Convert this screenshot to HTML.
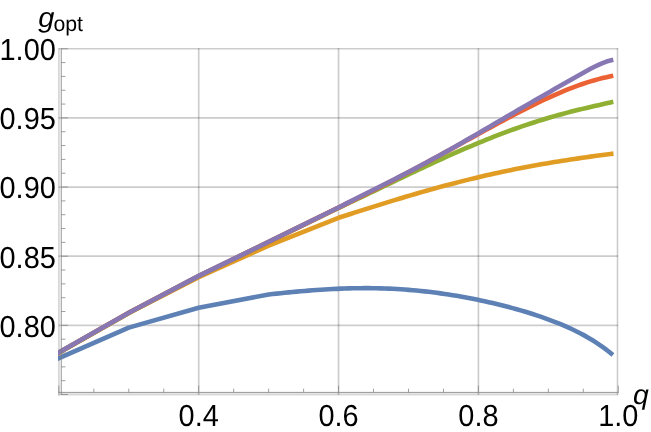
<!DOCTYPE html>
<html><head><meta charset="utf-8"><style>
html,body{margin:0;padding:0;background:#fff;}
svg{display:block;filter:blur(0.3px);font-family:"Liberation Sans",sans-serif;fill:#000;}
</style></head><body>
<svg width="651" height="432" viewBox="0 0 651 432">
<rect width="651" height="432" fill="#fff"/>
<g><line x1="198.70" y1="48.2" x2="198.70" y2="395" stroke="#000" stroke-opacity="0.2" stroke-width="1.7"/>
<line x1="338.56" y1="48.2" x2="338.56" y2="395" stroke="#000" stroke-opacity="0.2" stroke-width="1.7"/>
<line x1="478.42" y1="48.2" x2="478.42" y2="395" stroke="#000" stroke-opacity="0.2" stroke-width="1.7"/>
<line x1="617.5" y1="48.2" x2="617.5" y2="395" stroke="#000" stroke-opacity="0.2" stroke-width="1.6"/>
<line x1="58.5" y1="48.75" x2="618.1" y2="48.75" stroke="#000" stroke-opacity="0.2" stroke-width="1.7"/>
<line x1="58.5" y1="117.90" x2="618.1" y2="117.90" stroke="#000" stroke-opacity="0.2" stroke-width="1.7"/>
<line x1="58.5" y1="187.05" x2="618.1" y2="187.05" stroke="#000" stroke-opacity="0.2" stroke-width="1.7"/>
<line x1="58.5" y1="256.20" x2="618.1" y2="256.20" stroke="#000" stroke-opacity="0.2" stroke-width="1.7"/>
<line x1="58.5" y1="325.35" x2="618.1" y2="325.35" stroke="#000" stroke-opacity="0.2" stroke-width="1.7"/>
<line x1="58.9" y1="48.2" x2="58.9" y2="395.4" stroke="#000" stroke-opacity="0.15" stroke-width="1.9"/>
<line x1="58" y1="394.3" x2="618.1" y2="394.3" stroke="#000" stroke-opacity="0.15" stroke-width="2.2"/>
</g>
<g><clipPath id="cp"><rect x="57.9" y="40" width="580" height="360"/></clipPath>
<g clip-path="url(#cp)">
<path d="M50.00 362.05 L57.90 358.60 L128.77 327.65 L198.70 307.70 L268.63 294.50 L272.63 294.07 L276.63 293.64 L280.63 293.22 L284.63 292.81 L288.63 292.41 L292.63 292.03 L296.63 291.65 L300.63 291.29 L304.63 290.95 L308.63 290.62 L312.63 290.30 L316.63 290.01 L320.63 289.73 L324.63 289.47 L328.63 289.24 L332.63 289.02 L336.63 288.83 L340.63 288.66 L344.63 288.51 L348.63 288.39 L352.63 288.30 L356.63 288.22 L360.63 288.18 L364.63 288.16 L368.63 288.17 L372.63 288.21 L376.63 288.27 L380.63 288.36 L384.63 288.49 L388.63 288.64 L392.63 288.82 L396.63 289.03 L400.63 289.27 L404.63 289.54 L408.63 289.84 L412.63 290.17 L416.63 290.54 L420.63 290.93 L424.63 291.35 L428.63 291.80 L432.63 292.29 L436.63 292.80 L440.63 293.35 L444.63 293.92 L448.63 294.53 L452.63 295.16 L456.63 295.82 L460.63 296.52 L464.63 297.24 L468.63 297.99 L472.63 298.77 L476.63 299.57 L480.63 300.40 L484.63 301.27 L488.63 302.15 L492.63 303.07 L496.63 304.02 L500.63 305.00 L504.63 306.01 L508.63 307.05 L512.63 308.12 L516.63 309.23 L520.63 310.37 L524.63 311.55 L528.63 312.77 L532.63 314.04 L536.63 315.34 L540.63 316.69 L544.63 318.09 L548.63 319.54 L552.63 321.04 L556.63 322.60 L560.63 324.23 L564.63 325.92 L568.63 327.68 L572.63 329.53 L576.63 331.47 L580.63 333.50 L584.63 335.65 L588.63 337.91 L592.63 340.31 L596.63 342.85 L600.63 345.55 L604.63 348.41 L608.63 351.47 L612.63 354.73 L612.90 354.95" fill="none" stroke="#5E81B5" stroke-width="4.6" stroke-linejoin="round"/>
<path d="M50.00 357.79 L57.90 353.30 L128.77 313.00 L198.70 277.15 L268.63 245.65 L338.50 217.80 L342.50 216.52 L346.50 215.23 L350.50 213.95 L354.50 212.67 L358.50 211.40 L362.50 210.12 L366.50 208.85 L370.50 207.59 L374.50 206.33 L378.50 205.08 L382.50 203.83 L386.50 202.60 L390.50 201.36 L394.50 200.14 L398.50 198.93 L402.50 197.73 L406.50 196.53 L410.50 195.35 L414.50 194.18 L418.50 193.02 L422.50 191.87 L426.50 190.74 L430.50 189.61 L434.50 188.50 L438.50 187.40 L442.50 186.32 L446.50 185.25 L450.50 184.19 L454.50 183.15 L458.50 182.13 L462.50 181.11 L466.50 180.12 L470.50 179.14 L474.50 178.17 L478.50 177.22 L482.50 176.28 L486.50 175.36 L490.50 174.46 L494.50 173.57 L498.50 172.70 L502.50 171.84 L506.50 171.00 L510.50 170.17 L514.50 169.36 L518.50 168.56 L522.50 167.78 L526.50 167.02 L530.50 166.27 L534.50 165.53 L538.50 164.81 L542.50 164.10 L546.50 163.41 L550.50 162.73 L554.50 162.07 L558.50 161.42 L562.50 160.78 L566.50 160.15 L570.50 159.54 L574.50 158.94 L578.50 158.35 L582.50 157.77 L586.50 157.20 L590.50 156.64 L594.50 156.09 L598.50 155.55 L602.50 155.02 L606.50 154.50 L610.50 153.98 L613.50 153.60" fill="none" stroke="#E19C24" stroke-width="4.6" stroke-linejoin="round"/>
<path d="M50.00 357.69 L57.90 353.20 L128.77 312.90 L198.70 276.10 L268.63 242.00 L338.50 207.90 L342.50 206.04 L346.50 204.16 L350.50 202.28 L354.50 200.38 L358.50 198.48 L362.50 196.57 L366.50 194.65 L370.50 192.73 L374.50 190.81 L378.50 188.88 L382.50 186.95 L386.50 185.02 L390.50 183.09 L394.50 181.17 L398.50 179.24 L402.50 177.32 L406.50 175.41 L410.50 173.50 L414.50 171.60 L418.50 169.71 L422.50 167.82 L426.50 165.95 L430.50 164.09 L434.50 162.23 L438.50 160.40 L442.50 158.57 L446.50 156.76 L450.50 154.97 L454.50 153.19 L458.50 151.43 L462.50 149.69 L466.50 147.96 L470.50 146.26 L474.50 144.57 L478.50 142.91 L482.50 141.27 L486.50 139.65 L490.50 138.05 L494.50 136.48 L498.50 134.93 L502.50 133.41 L506.50 131.91 L510.50 130.44 L514.50 129.00 L518.50 127.58 L522.50 126.19 L526.50 124.83 L530.50 123.50 L534.50 122.20 L538.50 120.93 L542.50 119.69 L546.50 118.48 L550.50 117.30 L554.50 116.15 L558.50 115.03 L562.50 113.94 L566.50 112.88 L570.50 111.84 L574.50 110.83 L578.50 109.84 L582.50 108.87 L586.50 107.92 L590.50 106.98 L594.50 106.06 L598.50 105.15 L602.50 104.25 L606.50 103.35 L610.50 102.46 L613.30 101.83" fill="none" stroke="#8FB032" stroke-width="4.6" stroke-linejoin="round"/>
<path d="M50.00 357.59 L57.90 353.10 L128.77 312.80 L198.70 276.00 L268.63 241.90 L338.50 207.60 L342.50 205.65 L346.50 203.69 L350.50 201.73 L354.50 199.76 L358.50 197.78 L362.50 195.79 L366.50 193.80 L370.50 191.79 L374.50 189.77 L378.50 187.74 L382.50 185.70 L386.50 183.65 L390.50 181.59 L394.50 179.52 L398.50 177.43 L402.50 175.33 L406.50 173.23 L410.50 171.11 L414.50 168.98 L418.50 166.84 L422.50 164.69 L426.50 162.53 L430.50 160.36 L434.50 158.19 L438.50 156.00 L442.50 153.81 L446.50 151.62 L450.50 149.42 L454.50 147.21 L458.50 145.00 L462.50 142.79 L466.50 140.58 L470.50 138.37 L474.50 136.16 L478.50 133.96 L482.50 131.76 L486.50 129.56 L490.50 127.38 L494.50 125.20 L498.50 123.03 L502.50 120.88 L506.50 118.74 L510.50 116.62 L514.50 114.52 L518.50 112.44 L522.50 110.39 L526.50 108.35 L530.50 106.35 L534.50 104.38 L538.50 102.44 L542.50 100.53 L546.50 98.66 L550.50 96.83 L554.50 95.05 L558.50 93.31 L562.50 91.62 L566.50 89.98 L570.50 88.40 L574.50 86.87 L578.50 85.41 L582.50 84.01 L586.50 82.67 L590.50 81.41 L594.50 80.22 L598.50 79.11 L602.50 78.08 L606.50 77.14 L610.50 76.28 L613.30 75.74" fill="none" stroke="#EB6235" stroke-width="4.6" stroke-linejoin="round"/>
<path d="M50.00 357.49 L57.90 353.00 L128.77 312.70 L198.70 275.90 L268.63 241.80 L338.50 207.50 L342.50 205.43 L346.50 203.38 L350.50 201.34 L354.50 199.32 L358.50 197.30 L362.50 195.29 L366.50 193.29 L370.50 191.29 L374.50 189.28 L378.50 187.28 L382.50 185.27 L386.50 183.25 L390.50 181.23 L394.50 179.19 L398.50 177.15 L402.50 175.09 L406.50 173.02 L410.50 170.93 L414.50 168.84 L418.50 166.72 L422.50 164.59 L426.50 162.45 L430.50 160.28 L434.50 158.10 L438.50 155.91 L442.50 153.70 L446.50 151.47 L450.50 149.23 L454.50 146.97 L458.50 144.70 L462.50 142.41 L466.50 140.12 L470.50 137.81 L474.50 135.49 L478.50 133.17 L482.50 130.84 L486.50 128.50 L490.50 126.17 L494.50 123.83 L498.50 121.49 L502.50 119.15 L506.50 116.81 L510.50 114.48 L514.50 112.15 L518.50 109.82 L522.50 107.50 L526.50 105.18 L530.50 102.87 L534.50 100.56 L538.50 98.26 L542.50 95.97 L546.50 93.67 L550.50 91.39 L554.50 89.10 L558.50 86.82 L562.50 84.55 L566.50 82.27 L570.50 79.99 L574.50 77.72 L578.50 75.45 L582.50 73.19 L586.50 70.97 L590.50 68.80 L594.50 66.74 L598.50 64.81 L602.50 63.07 L606.50 61.58 L610.50 60.40 L613.30 59.81" fill="none" stroke="#8778B3" stroke-width="4.6" stroke-linejoin="round"/>
</g>
</g>
<g><line x1="61.25" y1="48.2" x2="61.25" y2="395" stroke="#7c7c7c" stroke-width="0.8"/>
<line x1="58.2" y1="392.40" x2="618.8" y2="392.40" stroke="#7c7c7c" stroke-width="0.8"/>
<line x1="61.25" y1="394.50" x2="68.05" y2="394.50" stroke="#868686" stroke-width="0.8"/>
<line x1="61.25" y1="380.67" x2="65.45" y2="380.67" stroke="#868686" stroke-width="0.8"/>
<line x1="61.25" y1="366.84" x2="65.45" y2="366.84" stroke="#868686" stroke-width="0.8"/>
<line x1="61.25" y1="353.01" x2="65.45" y2="353.01" stroke="#868686" stroke-width="0.8"/>
<line x1="61.25" y1="339.18" x2="65.45" y2="339.18" stroke="#868686" stroke-width="0.8"/>
<line x1="61.25" y1="325.35" x2="68.05" y2="325.35" stroke="#868686" stroke-width="0.8"/>
<line x1="61.25" y1="311.52" x2="65.45" y2="311.52" stroke="#868686" stroke-width="0.8"/>
<line x1="61.25" y1="297.69" x2="65.45" y2="297.69" stroke="#868686" stroke-width="0.8"/>
<line x1="61.25" y1="283.86" x2="65.45" y2="283.86" stroke="#868686" stroke-width="0.8"/>
<line x1="61.25" y1="270.03" x2="65.45" y2="270.03" stroke="#868686" stroke-width="0.8"/>
<line x1="61.25" y1="256.20" x2="68.05" y2="256.20" stroke="#868686" stroke-width="0.8"/>
<line x1="61.25" y1="242.37" x2="65.45" y2="242.37" stroke="#868686" stroke-width="0.8"/>
<line x1="61.25" y1="228.54" x2="65.45" y2="228.54" stroke="#868686" stroke-width="0.8"/>
<line x1="61.25" y1="214.71" x2="65.45" y2="214.71" stroke="#868686" stroke-width="0.8"/>
<line x1="61.25" y1="200.88" x2="65.45" y2="200.88" stroke="#868686" stroke-width="0.8"/>
<line x1="61.25" y1="187.05" x2="68.05" y2="187.05" stroke="#868686" stroke-width="0.8"/>
<line x1="61.25" y1="173.22" x2="65.45" y2="173.22" stroke="#868686" stroke-width="0.8"/>
<line x1="61.25" y1="159.39" x2="65.45" y2="159.39" stroke="#868686" stroke-width="0.8"/>
<line x1="61.25" y1="145.56" x2="65.45" y2="145.56" stroke="#868686" stroke-width="0.8"/>
<line x1="61.25" y1="131.73" x2="65.45" y2="131.73" stroke="#868686" stroke-width="0.8"/>
<line x1="61.25" y1="117.90" x2="68.05" y2="117.90" stroke="#868686" stroke-width="0.8"/>
<line x1="61.25" y1="104.07" x2="65.45" y2="104.07" stroke="#868686" stroke-width="0.8"/>
<line x1="61.25" y1="90.24" x2="65.45" y2="90.24" stroke="#868686" stroke-width="0.8"/>
<line x1="61.25" y1="76.41" x2="65.45" y2="76.41" stroke="#868686" stroke-width="0.8"/>
<line x1="61.25" y1="62.58" x2="65.45" y2="62.58" stroke="#868686" stroke-width="0.8"/>
<line x1="61.25" y1="48.75" x2="68.05" y2="48.75" stroke="#868686" stroke-width="0.8"/>
<line x1="58.84" y1="392.40" x2="58.84" y2="385.60" stroke="#868686" stroke-width="0.8"/>
<line x1="93.80" y1="392.40" x2="93.80" y2="388.70" stroke="#868686" stroke-width="0.8"/>
<line x1="128.77" y1="392.40" x2="128.77" y2="388.70" stroke="#868686" stroke-width="0.8"/>
<line x1="163.74" y1="392.40" x2="163.74" y2="388.70" stroke="#868686" stroke-width="0.8"/>
<line x1="198.70" y1="392.40" x2="198.70" y2="385.60" stroke="#868686" stroke-width="0.8"/>
<line x1="233.66" y1="392.40" x2="233.66" y2="388.70" stroke="#868686" stroke-width="0.8"/>
<line x1="268.63" y1="392.40" x2="268.63" y2="388.70" stroke="#868686" stroke-width="0.8"/>
<line x1="303.60" y1="392.40" x2="303.60" y2="388.70" stroke="#868686" stroke-width="0.8"/>
<line x1="338.56" y1="392.40" x2="338.56" y2="385.60" stroke="#868686" stroke-width="0.8"/>
<line x1="373.52" y1="392.40" x2="373.52" y2="388.70" stroke="#868686" stroke-width="0.8"/>
<line x1="408.49" y1="392.40" x2="408.49" y2="388.70" stroke="#868686" stroke-width="0.8"/>
<line x1="443.46" y1="392.40" x2="443.46" y2="388.70" stroke="#868686" stroke-width="0.8"/>
<line x1="478.42" y1="392.40" x2="478.42" y2="385.60" stroke="#868686" stroke-width="0.8"/>
<line x1="513.39" y1="392.40" x2="513.39" y2="388.70" stroke="#868686" stroke-width="0.8"/>
<line x1="548.35" y1="392.40" x2="548.35" y2="388.70" stroke="#868686" stroke-width="0.8"/>
<line x1="583.31" y1="392.40" x2="583.31" y2="388.70" stroke="#868686" stroke-width="0.8"/>
<line x1="618.28" y1="392.40" x2="618.28" y2="385.60" stroke="#868686" stroke-width="0.8"/>
</g>
<g style="will-change:transform;text-rendering:geometricPrecision"><text transform="translate(55.80 60.15) scale(0.948 1)" text-anchor="end" font-size="30.5">1.00</text>
<text transform="translate(55.80 129.30) scale(0.948 1)" text-anchor="end" font-size="30.5">0.95</text>
<text transform="translate(55.80 198.45) scale(0.948 1)" text-anchor="end" font-size="30.5">0.90</text>
<text transform="translate(55.80 267.60) scale(0.948 1)" text-anchor="end" font-size="30.5">0.85</text>
<text transform="translate(55.80 336.75) scale(0.948 1)" text-anchor="end" font-size="30.5">0.80</text>
<text transform="translate(198.70 425.80) scale(0.948 1)" text-anchor="middle" font-size="30.5">0.4</text>
<text transform="translate(338.56 425.80) scale(0.948 1)" text-anchor="middle" font-size="30.5">0.6</text>
<text transform="translate(478.42 425.80) scale(0.948 1)" text-anchor="middle" font-size="30.5">0.8</text>
<text transform="translate(618.28 425.80) scale(0.948 1)" text-anchor="middle" font-size="30.5">1.0</text>
<text transform="translate(632.90 403.80) scale(1.040 1)" text-anchor="start" font-size="27.3" font-style="italic">q</text>
<text transform="translate(38.30 27.00) scale(1.040 1)" text-anchor="start" font-size="27.9" font-style="italic">g</text>
<text transform="translate(53.40 31.00) scale(0.990 1)" text-anchor="start" font-size="21.5">opt</text>
</g>
</svg>
</body></html>
